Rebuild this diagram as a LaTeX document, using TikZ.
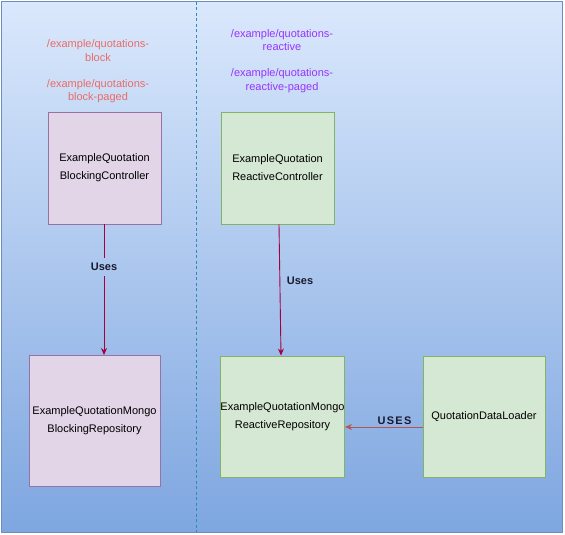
\documentclass[tikz,border=0pt]{standalone}
\usepackage{fontspec}
\setmainfont{Liberation Sans}
\usetikzlibrary{arrows.meta,calc}
\definecolor{bgtop}{HTML}{DAE8FC}
\definecolor{bgbot}{HTML}{7EA6E0}
\definecolor{bgborder}{HTML}{6C8EBF}
\definecolor{divider}{HTML}{2C8BB8}
\definecolor{pinkfill}{HTML}{E1D5E7}
\definecolor{pinkdraw}{HTML}{9673A6}
\definecolor{greenfill}{HTML}{D5E8D4}
\definecolor{greendraw}{HTML}{82B366}
\definecolor{usesline}{HTML}{A50040}
\definecolor{loadline}{HTML}{B85450}
\definecolor{blocktxt}{HTML}{EA6B66}
\definecolor{reacttxt}{HTML}{9933FF}
\definecolor{lbltxt}{HTML}{1A1A2E}
\begin{document}
\begin{tikzpicture}[x=1pt,y=-1pt,
  box/.style={draw, line width=0.9pt, inner sep=0pt, align=center,
    font=\fontsize{11}{18}\selectfont, text=black},
  pinkbox/.style={box, fill=pinkfill, draw=pinkdraw},
  greenbox/.style={box, fill=greenfill, draw=greendraw},
  pathtxt/.style={align=center, font=\fontsize{11}{13.5}\selectfont, inner sep=0pt},
  lbl/.style={font=\bfseries\fontsize{11}{13}\selectfont, text=lbltxt, inner sep=0pt},
  usesarrow/.style={draw=usesline, line width=0.9pt},
  tip/.style={-{Stealth[length=7pt,width=6pt]}}
]
\useasboundingbox (0,0) rectangle (565,535);
\shade[top color=bgtop, bottom color=bgbot] (1.5,1.5) rectangle (562.5,532.5);
\draw[bgborder, line width=0.8pt] (1.5,1.5) rectangle (562.5,532.5);
\coordinate (dtop) at (196,2);
\coordinate (dbot) at (196,532);
\draw[divider, line width=0.8pt, dash pattern=on 3pt off 2.5pt] (dtop) -- (dbot);

% paths
\node[pathtxt, text=blocktxt] (p1) at (98,50.5) {/example/quotations-\\block};
\node[pathtxt, text=blocktxt] (p2) at (98,91) {/example/quotations-\\block-paged};
\node[pathtxt, text=reacttxt] (p3) at (282,40) {/example/quotations-\\reactive};
\node[pathtxt, text=reacttxt] (p4) at (282,80.5) {/example/quotations-\\reactive-paged};

% boxes
\node[pinkbox, minimum width=113pt, minimum height=112pt] (A) at (104.5,168) {ExampleQuotation\\BlockingController};
\node[greenbox, minimum width=113pt, minimum height=112pt] (B) at (277.5,168) {ExampleQuotation\\ReactiveController};
\node[pinkbox, minimum width=131pt, minimum height=131pt] (C) at (94.5,421) {ExampleQuotationMongo\\BlockingRepository};
\node[greenbox, minimum width=121pt, minimum height=121pt] (D) at (282.5,416.5) {ExampleQuotationMongo\\ReactiveRepository};
\node[greenbox, minimum width=122pt, minimum height=121pt] (E) at (484,416.5) {QuotationDataLoader};

% left uses
\node[lbl] (u1) at (104,267) {Uses};
\draw[usesarrow] (A.south -| u1) -- ($(u1.north)+(0,-5)$);
\draw[usesarrow, tip] ($(u1.south)+(0,5)$) -- (u1 |- C.north);

% right uses
\coordinate (bs) at ($(B.south)+(1.5,0)$);
\coordinate (dn) at ($(D.north)+(-1.5,0)$);
\draw[usesarrow, tip] (bs) -- (dn);
\node[lbl] (u2) at (300,281) {Uses};

% USES
\draw[draw=loadline, line width=0.9pt, tip] (E.west |- 0,427) -- (D.east |- 0,427);
\node[lbl, font=\bfseries\fontsize{11}{13}\selectfont\addfontfeature{LetterSpace=12}] (u3) at (394.5,421) {USES};
\end{tikzpicture}
\end{document}
